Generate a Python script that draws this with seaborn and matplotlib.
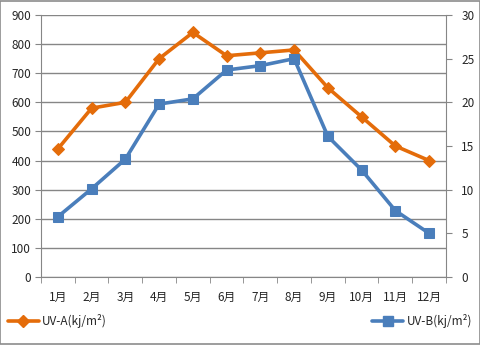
import matplotlib
matplotlib.use("Agg")
import matplotlib.pyplot as plt
import seaborn as sns
import pandas as pd
import numpy as np
from matplotlib.lines import Line2D
from matplotlib.patches import Rectangle

months = ["1月", "2月", "3月", "4月", "5月", "6月", "7月", "8月", "9月", "10月", "11月", "12月"]
uva = [440, 580, 600, 750, 840, 760, 770, 780, 650, 550, 450, 400]
uvb = [6.9, 10.1, 13.5, 19.8, 20.4, 23.7, 24.2, 25.0, 16.1, 12.25, 7.6, 5.0]
left_ticks = list(range(0, 1000, 100))
right_ticks = list(range(0, 35, 5))

sns.set_style("white")
plt.rcParams["font.family"] = ["Noto Sans CJK JP", "DejaVu Sans"]

orange = "#E46C0A"
blue = "#4A7EBB"
grid_c = "#868686"

df = pd.DataFrame({"x": np.arange(len(months)), "uva": uva, "uvb": uvb})

fig = plt.figure(figsize=(4.81, 3.45), dpi=100)
ax = fig.add_axes([41 / 481, 1 - 277 / 345, (446 - 41) / 481, (277 - 15) / 345])
ax2 = ax.twinx()

sns.lineplot(data=df, x="x", y="uva", ax=ax, color=orange, lw=2.6,
             marker="D", markersize=6, markeredgecolor=orange, zorder=3)
sns.lineplot(data=df, x="x", y="uvb", ax=ax2, color=blue, lw=2.6,
             marker="s", markersize=7.5, markeredgecolor=blue, zorder=3)

ax.set_xlim(-0.5, len(months) - 0.5)
ax.set_ylim(0, 900)
ax2.set_ylim(0, 30)
ax.set_yticks(left_ticks)
ax2.set_yticks(right_ticks)
ax.set_xticks(np.arange(len(months)))
ax.set_xticklabels(months)
ax.set_xticks(np.arange(len(months) + 1) - 0.5, minor=True)
ax.set_xlabel("")
ax.set_ylabel("")
ax2.set_ylabel("")

ax.yaxis.grid(True, color=grid_c, lw=1.0)
ax.set_axisbelow(True)

for a in (ax, ax2):
    for s in a.spines.values():
        s.set_visible(False)
ax.spines["left"].set_visible(True)
ax.spines["left"].set_color(grid_c)
ax.spines["bottom"].set_visible(True)
ax.spines["bottom"].set_color(grid_c)
ax2.spines["right"].set_visible(True)
ax2.spines["right"].set_color(grid_c)

ax.tick_params(axis="y", which="both", left=True, length=4, color=grid_c,
               labelsize=8.5, pad=3)
ax.tick_params(axis="x", which="major", length=0, labelsize=8.5, pad=10)
ax.tick_params(axis="x", which="minor", bottom=True, length=4, color=grid_c)
ax2.tick_params(axis="y", right=True, length=4, color=grid_c,
                labelsize=8.5, pad=7)

# Legend entries at the bottom-left and bottom-right corners
h_a = Line2D([], [], color=orange, lw=2.6, marker="D", markersize=6)
h_b = Line2D([], [], color=blue, lw=2.6, marker="s", markersize=7.5)
fig.legend([h_a], ["UV-A(kj/m²)"], loc="center left", bbox_to_anchor=(8 / 481, 1 - 321 / 345),
           frameon=False, fontsize=8.5, handlelength=2.6, handletextpad=0.3,
           borderaxespad=0, borderpad=0)
fig.legend([h_b], ["UV-B(kj/m²)"], loc="center right", bbox_to_anchor=(472 / 481, 1 - 321 / 345),
           frameon=False, fontsize=8.5, handlelength=2.6, handletextpad=0.3,
           borderaxespad=0, borderpad=0)

# Outer chart border
fig.patches.append(Rectangle((0.001, 0.002), 0.997, 0.996, transform=fig.transFigure,
                             fill=False, edgecolor="#8C8C8C", lw=1.2))

fig.savefig("out.png", dpi=100)
